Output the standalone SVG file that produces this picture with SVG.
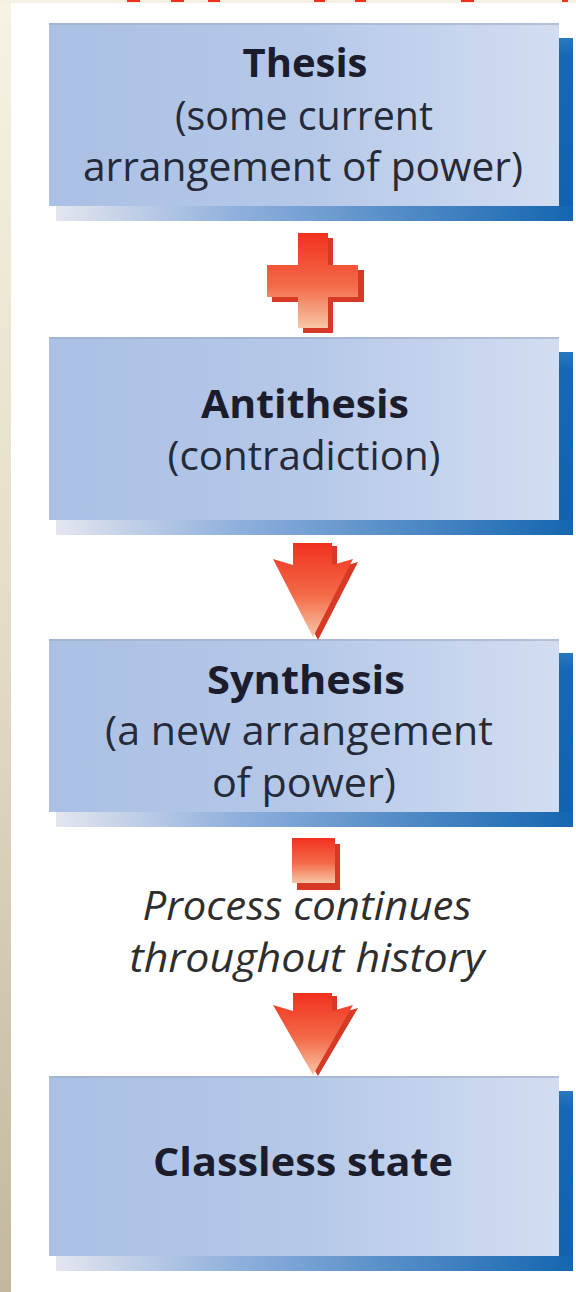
<svg xmlns="http://www.w3.org/2000/svg" width="576" height="1292" viewBox="0 0 576 1292">
<defs>
<linearGradient id="face" x1="0" y1="0" x2="1" y2="0">
<stop offset="0" stop-color="#aac0e4"/>
<stop offset="0.5" stop-color="#b5c8e8"/>
<stop offset="1" stop-color="#d2ddf1"/>
</linearGradient>
<linearGradient id="bshadow" x1="0" y1="0" x2="1" y2="0">
<stop offset="0" stop-color="#e4e6ef"/>
<stop offset="0.35" stop-color="#8fb0dc"/>
<stop offset="1" stop-color="#1466b0"/>
</linearGradient>
<linearGradient id="rshadow" x1="0" y1="0" x2="0" y2="1">
<stop offset="0" stop-color="#2a78bd"/>
<stop offset="0.1" stop-color="#1668b2"/>
<stop offset="1" stop-color="#1262ab"/>
</linearGradient>
<linearGradient id="red" x1="0" y1="0" x2="0" y2="1">
<stop offset="0" stop-color="#f1311f"/>
<stop offset="0.55" stop-color="#f36a48"/>
<stop offset="1" stop-color="#f8c6a6"/>
</linearGradient>
<linearGradient id="strip" x1="0" y1="0" x2="0" y2="1">
<stop offset="0" stop-color="#f6f3e4"/>
<stop offset="0.5" stop-color="#e2dbc6"/>
<stop offset="1" stop-color="#c3b79f"/>
</linearGradient>
</defs>
<style>
.face{fill:url(#face)}
.rs{fill:url(#rshadow)}
.bs{fill:url(#bshadow)}
.edge{fill:#9eabc2;opacity:0.6}
.t{font-family:"Open Sans","Liberation Sans",sans-serif;font-size:40px;fill:#252a38;text-anchor:middle}
.b{font-weight:700;fill:#1c1d2c}
.i{font-style:italic;fill:#2e2e2e}
.red{fill:url(#red)}
.rsh{fill:#d63a26}
.dot{fill:#f0301c}
</style>
<rect x="0" y="0" width="576" height="1292" fill="#ffffff"/>
<rect x="0" y="0" width="11" height="1292" fill="url(#strip)"/>
<rect x="0" y="0" width="576" height="3" fill="#f4f1e2"/>
<g id="topfragments">
<rect class="dot" x="127" y="0" width="13" height="2"/>
<rect class="dot" x="171" y="0" width="13" height="2"/>
<rect class="dot" x="208" y="0" width="12" height="2"/>
<rect class="dot" x="314" y="0" width="11" height="2"/>
<rect class="dot" x="355" y="0" width="11" height="2"/>
<rect class="dot" x="461" y="0" width="13" height="2"/>
<rect class="dot" x="562" y="0" width="6" height="2"/>
</g>
<g id="thesis">
<rect class="rs" x="558" y="38" width="15" height="183"/>
<rect class="bs" x="56" y="206" width="517" height="15"/>
<rect class="face" x="49" y="23" width="510" height="183"/>
<rect class="edge" x="49" y="23" width="510" height="2"/>
<text class="t b" x="305" y="77" textLength="125" lengthAdjust="spacingAndGlyphs">Thesis</text>
<text class="t" x="304" y="130" textLength="258" lengthAdjust="spacingAndGlyphs">(some current</text>
<text class="t" x="303" y="181" textLength="440" lengthAdjust="spacingAndGlyphs">arrangement of power)</text>
</g>
<g id="antithesis">
<rect class="rs" x="558" y="352" width="15" height="183"/>
<rect class="bs" x="56" y="520" width="517" height="15"/>
<rect class="face" x="49" y="337" width="510" height="183"/>
<rect class="edge" x="49" y="337" width="510" height="2"/>
<text class="t b" x="305" y="418" textLength="208" lengthAdjust="spacingAndGlyphs">Antithesis</text>
<text class="t" x="304" y="470" textLength="273" lengthAdjust="spacingAndGlyphs">(contradiction)</text>
</g>
<g id="synthesis">
<rect class="rs" x="558" y="653" width="15" height="174"/>
<rect class="bs" x="56" y="812" width="517" height="15"/>
<rect class="face" x="49" y="639" width="510" height="173"/>
<rect class="edge" x="49" y="639" width="510" height="2"/>
<text class="t b" x="306" y="694" textLength="198" lengthAdjust="spacingAndGlyphs">Synthesis</text>
<text class="t" x="299" y="745" textLength="388" lengthAdjust="spacingAndGlyphs">(a new arrangement</text>
<text class="t" x="304" y="797" textLength="184" lengthAdjust="spacingAndGlyphs">of power)</text>
</g>
<g id="process">
<text class="t i" x="307" y="920" textLength="329" lengthAdjust="spacingAndGlyphs">Process continues</text>
<text class="t i" x="307" y="972" textLength="355" lengthAdjust="spacingAndGlyphs">throughout history</text>
</g>
<g id="classless">
<rect class="rs" x="558" y="1091" width="15" height="180"/>
<rect class="bs" x="56" y="1256" width="517" height="15"/>
<rect class="face" x="49" y="1076" width="510" height="180"/>
<rect class="edge" x="49" y="1076" width="510" height="2"/>
<text class="t b" x="303" y="1176" textLength="300" lengthAdjust="spacingAndGlyphs">Classless state</text>
</g>
<g id="connectors">
<g id="plus">
<path class="rsh" d="M303,238 h30 v32 h31 v32 h-31 v31 h-30 v-31 h-31 v-32 h31 z"/>
<path class="red" d="M298,233 h30 v32 h30 v32 h-30 v31 h-30 v-31 h-31 v-32 h31 z"/>
</g>
<g id="arrow1">
<path class="rsh" d="M298,546 h39 v22 l21,-6 l-40,78 l-40,-78 l20,6 z"/>
<path class="red" d="M293,543 h39 v22 l21,-6 l-40,78 l-40,-78 l20,6 z"/>
</g>
<g id="square">
<rect class="rsh" x="297" y="844" width="43" height="46"/>
<rect class="red" x="292" y="838" width="43" height="45"/>
</g>
<g id="arrow2">
<path class="rsh" d="M298,996 h39 v18 l21,-6 l-40,68 l-40,-68 l20,6 z"/>
<path class="red" d="M293,993 h39 v18 l21,-6 l-40,70 l-40,-70 l20,6 z"/>
</g>
</g>
</svg>
